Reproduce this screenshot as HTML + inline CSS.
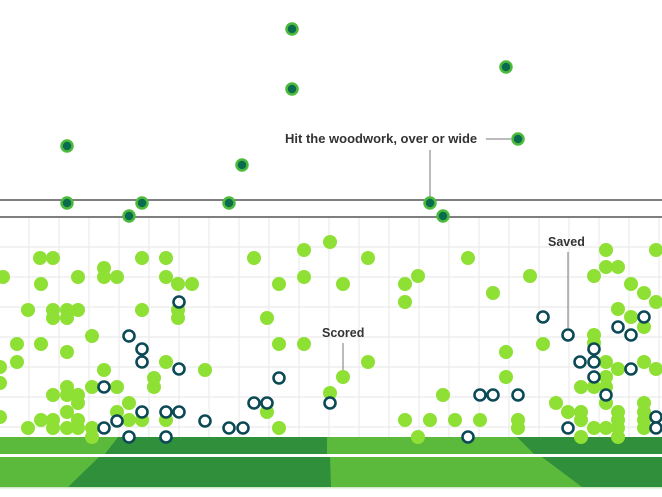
<!DOCTYPE html>
<html><head><meta charset="utf-8"><style>
html,body{margin:0;padding:0;background:#fff;}
svg{display:block}
text{font-family:"Liberation Sans",sans-serif;font-weight:bold;font-size:12.5px;fill:#333}
.g{fill:#8fe034}
.r{fill:#fff;stroke:#0b4a55;stroke-width:2.6}
.d{fill:#0b6b4e;stroke:#4cbb3c;stroke-width:2.5}
</style></head><body>
<svg width="662" height="497" viewBox="0 0 662 497" xmlns="http://www.w3.org/2000/svg">
<g stroke="#ebebeb" stroke-width="1.2">
<line x1="29" y1="217" x2="29" y2="437"/><line x1="59" y1="217" x2="59" y2="437"/><line x1="89" y1="217" x2="89" y2="437"/><line x1="119" y1="217" x2="119" y2="437"/><line x1="149" y1="217" x2="149" y2="437"/><line x1="179" y1="217" x2="179" y2="437"/><line x1="209" y1="217" x2="209" y2="437"/><line x1="239" y1="217" x2="239" y2="437"/><line x1="269" y1="217" x2="269" y2="437"/><line x1="299" y1="217" x2="299" y2="437"/><line x1="329" y1="217" x2="329" y2="437"/><line x1="359" y1="217" x2="359" y2="437"/><line x1="389" y1="217" x2="389" y2="437"/><line x1="419" y1="217" x2="419" y2="437"/><line x1="449" y1="217" x2="449" y2="437"/><line x1="479" y1="217" x2="479" y2="437"/><line x1="509" y1="217" x2="509" y2="437"/><line x1="539" y1="217" x2="539" y2="437"/><line x1="569" y1="217" x2="569" y2="437"/><line x1="599" y1="217" x2="599" y2="437"/><line x1="629" y1="217" x2="629" y2="437"/><line x1="659" y1="217" x2="659" y2="437"/>
<line x1="0" y1="247" x2="662" y2="247"/><line x1="0" y1="277" x2="662" y2="277"/><line x1="0" y1="307" x2="662" y2="307"/><line x1="0" y1="337" x2="662" y2="337"/><line x1="0" y1="367" x2="662" y2="367"/><line x1="0" y1="397" x2="662" y2="397"/><line x1="0" y1="427" x2="662" y2="427"/>
</g>
<rect x="0" y="437" width="662" height="17" fill="#5bb93c"/>
<polygon points="118,437 327,437 327,454 105,454" fill="#2f8f3a"/>
<polygon points="517,437 662,437 662,454 534,454" fill="#2f8f3a"/>
<rect x="0" y="454" width="662" height="3" fill="#fff"/>
<rect x="0" y="457" width="662" height="30" fill="#5bb93c"/>
<polygon points="99,457 330,457 331,487 68,487" fill="#2f8f3a"/>
<polygon points="542,457 662,457 662,487 582,487" fill="#2f8f3a"/>
<rect x="0" y="487" width="662" height="1.5" fill="#cfe9c4"/>
<line x1="0" y1="200" x2="662" y2="200" stroke="#555" stroke-width="1.6"/>
<line x1="0" y1="217" x2="662" y2="217" stroke="#555" stroke-width="1.6"/>
<text x="285" y="143" style="font-size:13px">Hit the woodwork, over or wide</text>
<line x1="486" y1="139" x2="511" y2="139" stroke="#777" stroke-width="1"/>
<line x1="430" y1="150" x2="430" y2="199" stroke="#777" stroke-width="1"/>
<text x="322" y="337">Scored</text>
<line x1="343" y1="343" x2="343" y2="370" stroke="#777" stroke-width="1"/>
<text x="548" y="246">Saved</text>
<line x1="568" y1="252" x2="568" y2="328" stroke="#777" stroke-width="1"/>
<g class="g">
<circle cx="40" cy="258" r="7"/><circle cx="53" cy="258" r="7"/><circle cx="142" cy="258" r="7"/><circle cx="166" cy="258" r="7"/><circle cx="254" cy="258" r="7"/><circle cx="304" cy="250" r="7"/><circle cx="330" cy="242" r="7"/>
<circle cx="3" cy="277" r="7"/><circle cx="78" cy="277" r="7"/><circle cx="104" cy="268" r="7"/><circle cx="104" cy="277" r="7"/><circle cx="117" cy="277" r="7"/><circle cx="166" cy="277" r="7"/><circle cx="178" cy="284" r="7"/><circle cx="192" cy="284" r="7"/><circle cx="41" cy="284" r="7"/><circle cx="279" cy="284" r="7"/><circle cx="304" cy="277" r="7"/>
<circle cx="28" cy="310" r="7"/><circle cx="53" cy="310" r="7"/><circle cx="67" cy="310" r="7"/><circle cx="78" cy="310" r="7"/><circle cx="53" cy="318" r="7"/><circle cx="67" cy="318" r="7"/><circle cx="142" cy="310" r="7"/><circle cx="178" cy="310" r="7"/><circle cx="178" cy="318" r="7"/><circle cx="267" cy="318" r="7"/>
<circle cx="92" cy="336" r="7"/><circle cx="17" cy="344" r="7"/><circle cx="41" cy="344" r="7"/><circle cx="67" cy="352" r="7"/><circle cx="279" cy="344" r="7"/><circle cx="304" cy="344" r="7"/><circle cx="17" cy="362" r="7"/><circle cx="166" cy="362" r="7"/><circle cx="104" cy="370" r="7"/><circle cx="205" cy="370" r="7"/><circle cx="154" cy="378" r="7"/><circle cx="154" cy="387" r="7"/><circle cx="0" cy="367" r="7"/><circle cx="0" cy="383" r="7"/><circle cx="0" cy="417" r="7"/>
<circle cx="53" cy="395" r="7"/><circle cx="67" cy="387" r="7"/><circle cx="78" cy="395" r="7"/><circle cx="67" cy="395" r="7"/><circle cx="78" cy="403" r="7"/><circle cx="92" cy="387" r="7"/><circle cx="117" cy="387" r="7"/><circle cx="67" cy="412" r="7"/><circle cx="117" cy="412" r="7"/><circle cx="129" cy="403" r="7"/><circle cx="41" cy="420" r="7"/><circle cx="53" cy="420" r="7"/><circle cx="78" cy="420" r="7"/><circle cx="53" cy="428" r="7"/><circle cx="67" cy="428" r="7"/><circle cx="78" cy="428" r="7"/><circle cx="28" cy="428" r="7"/><circle cx="92" cy="428" r="7"/><circle cx="92" cy="437" r="7"/><circle cx="129" cy="420" r="7"/><circle cx="142" cy="420" r="7"/><circle cx="166" cy="420" r="7"/><circle cx="267" cy="412" r="7"/><circle cx="279" cy="428" r="7"/><circle cx="330" cy="393" r="7"/>
<circle cx="368" cy="258" r="7"/><circle cx="343" cy="284" r="7"/><circle cx="405" cy="284" r="7"/><circle cx="418" cy="276" r="7"/><circle cx="405" cy="302" r="7"/><circle cx="468" cy="258" r="7"/><circle cx="493" cy="293" r="7"/><circle cx="530" cy="276" r="7"/><circle cx="543" cy="344" r="7"/><circle cx="506" cy="352" r="7"/><circle cx="368" cy="362" r="7"/><circle cx="343" cy="377" r="7"/><circle cx="506" cy="377" r="7"/><circle cx="443" cy="395" r="7"/><circle cx="405" cy="420" r="7"/><circle cx="430" cy="420" r="7"/><circle cx="455" cy="420" r="7"/><circle cx="480" cy="420" r="7"/><circle cx="418" cy="437" r="7"/><circle cx="518" cy="420" r="7"/><circle cx="518" cy="428" r="7"/>
<circle cx="606" cy="250" r="7"/><circle cx="656" cy="250" r="7"/><circle cx="606" cy="267" r="7"/><circle cx="618" cy="267" r="7"/><circle cx="594" cy="276" r="7"/><circle cx="631" cy="284" r="7"/><circle cx="644" cy="293" r="7"/><circle cx="656" cy="302" r="7"/><circle cx="618" cy="309" r="7"/><circle cx="631" cy="317" r="7"/><circle cx="644" cy="327" r="7"/><circle cx="594" cy="335" r="7"/><circle cx="594" cy="343" r="7"/><circle cx="606" cy="362" r="7"/><circle cx="618" cy="369" r="7"/><circle cx="644" cy="362" r="7"/><circle cx="656" cy="369" r="7"/><circle cx="606" cy="377" r="7"/><circle cx="581" cy="387" r="7"/><circle cx="594" cy="387" r="7"/><circle cx="606" cy="387" r="7"/><circle cx="606" cy="403" r="7"/><circle cx="556" cy="403" r="7"/><circle cx="568" cy="412" r="7"/><circle cx="581" cy="412" r="7"/><circle cx="581" cy="420" r="7"/><circle cx="618" cy="412" r="7"/><circle cx="618" cy="420" r="7"/><circle cx="644" cy="403" r="7"/><circle cx="644" cy="412" r="7"/><circle cx="644" cy="420" r="7"/><circle cx="594" cy="428" r="7"/><circle cx="606" cy="428" r="7"/><circle cx="618" cy="428" r="7"/><circle cx="581" cy="437" r="7"/><circle cx="618" cy="437" r="7"/><circle cx="644" cy="428" r="7"/>
</g>
<g class="r">
<circle cx="179" cy="302" r="5.5"/><circle cx="129" cy="336" r="5.5"/><circle cx="142" cy="349" r="5.5"/><circle cx="142" cy="362" r="5.5"/><circle cx="179" cy="369" r="5.5"/><circle cx="104" cy="387" r="5.5"/><circle cx="142" cy="412" r="5.5"/><circle cx="166" cy="412" r="5.5"/><circle cx="179" cy="412" r="5.5"/><circle cx="205" cy="421" r="5.5"/><circle cx="117" cy="421" r="5.5"/><circle cx="104" cy="428" r="5.5"/><circle cx="129" cy="437" r="5.5"/><circle cx="166" cy="437" r="5.5"/><circle cx="229" cy="428" r="5.5"/><circle cx="243" cy="428" r="5.5"/><circle cx="254" cy="403" r="5.5"/><circle cx="267" cy="403" r="5.5"/><circle cx="279" cy="378" r="5.5"/><circle cx="330" cy="403" r="5.5"/>
<circle cx="543" cy="317" r="5.5"/><circle cx="568" cy="335" r="5.5"/><circle cx="618" cy="327" r="5.5"/><circle cx="631" cy="335" r="5.5"/><circle cx="644" cy="317" r="5.5"/><circle cx="594" cy="349" r="5.5"/><circle cx="580" cy="362" r="5.5"/><circle cx="594" cy="362" r="5.5"/><circle cx="631" cy="369" r="5.5"/><circle cx="594" cy="377" r="5.5"/><circle cx="606" cy="395" r="5.5"/><circle cx="480" cy="395" r="5.5"/><circle cx="493" cy="395" r="5.5"/><circle cx="518" cy="395" r="5.5"/><circle cx="468" cy="437" r="5.5"/><circle cx="568" cy="428" r="5.5"/><circle cx="656" cy="417" r="5.5"/><circle cx="656" cy="428" r="5.5"/>
</g>
<g class="d">
<circle cx="67" cy="203" r="5.5"/><circle cx="142" cy="203" r="5.5"/><circle cx="229" cy="203" r="5.5"/><circle cx="129" cy="216" r="5.5"/><circle cx="430" cy="203" r="5.5"/><circle cx="443" cy="216" r="5.5"/>
<circle cx="292" cy="29" r="5.5"/><circle cx="292" cy="89" r="5.5"/><circle cx="506" cy="67" r="5.5"/><circle cx="518" cy="139" r="5.5"/><circle cx="242" cy="165" r="5.5"/><circle cx="67" cy="146" r="5.5"/>
</g>
</svg>
</body></html>
